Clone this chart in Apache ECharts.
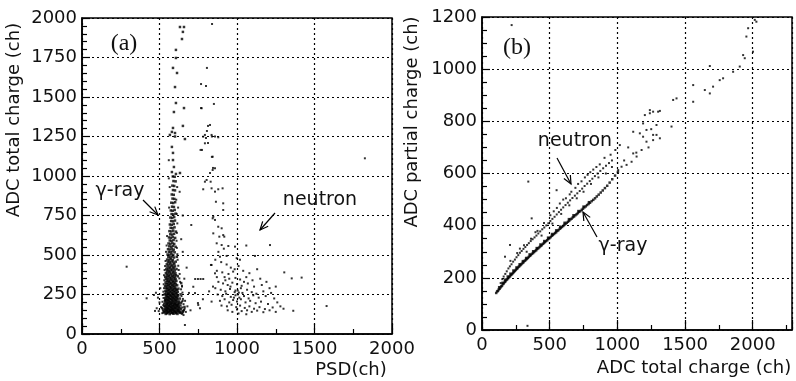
<!DOCTYPE html>
<html><head><meta charset="utf-8">
<script src="https://cdn.jsdelivr.net/npm/echarts@6/dist/echarts.min.js"></script>
<style>html,body{margin:0;padding:0;background:#fff}#c{width:796px;height:381px}</style>
</head><body><div id="c"></div>
<script>
// ---------- (a) PSD vs ADC total charge ----------
const ticksA_x = [0, 500, 1000, 1500, 2000];
const ticksA_y = [0, 250, 500, 750, 1000, 1250, 1500, 1750, 2000];
const gammaA = [
[540,127],[551,131],[566,126],[579,133],[590,128],[604,131],[616,127],[631,134],
[535,137],[548,134],[561,139],[572,136],[586,133],[597,138],[609,135],[623,139],[642,133],
[530,143],[545,146],[556,141],[569,147],[582,143],[594,145],[607,141],[618,147],[634,142],
[538,151],[550,149],[563,154],[576,150],[587,153],[600,148],[613,152],[627,150],[649,146],
[533,159],[547,157],[558,161],[571,156],[584,160],[596,158],[608,162],[621,157],[638,160],
[541,167],[553,165],[567,169],[579,164],[592,168],[603,166],[616,170],[629,165],
[536,175],[549,173],[562,178],[574,172],[586,176],[598,174],[611,178],[624,173],[661,171],
[544,183],[557,181],[568,186],[581,180],[593,185],[606,182],[618,184],[635,181],
[531,191],[547,189],[559,194],[572,188],[584,193],[597,190],[609,192],[622,189],
[539,199],[552,197],[565,202],[577,196],[589,200],[601,198],[614,203],[628,197],
[535,208],[548,206],[560,211],[573,205],[585,210],[598,207],[610,212],[626,206],
[543,217],[555,215],[567,220],[580,214],[592,219],[604,216],[617,221],
[537,226],[550,224],[562,229],[575,223],[587,228],[599,225],[612,230],[631,224],
[545,235],[557,233],[570,238],[582,232],[594,237],[607,234],[620,239],
[540,244],[552,242],[565,247],[577,241],[589,246],[602,243],[615,248],
[534,253],[548,251],[560,256],[572,250],[585,255],[597,252],[610,257],[636,251],
[543,263],[556,261],[568,266],[580,260],[592,265],[605,262],[618,267],
[538,273],[551,271],[563,276],[575,270],[588,275],[600,272],[613,277],
[546,283],[558,281],[570,286],[583,280],[595,285],[608,282],[622,287],
[541,293],[553,291],[566,296],[578,290],[590,295],[603,292],
[536,304],[549,302],[561,307],[573,301],[586,306],[598,303],[614,308],
[544,315],[556,313],[569,318],[581,312],[593,317],[606,314],
[539,326],[552,324],[564,329],[576,323],[589,328],[601,325],[640,322],
[547,337],[559,335],[571,340],[584,334],[596,339],[609,336],
[542,349],[555,347],[567,352],[579,346],[592,351],[604,348],
[537,361],[550,359],[562,364],[575,358],[587,363],[599,360],[618,365],
[546,373],[558,371],[570,376],[582,370],[595,375],[607,372],
[541,386],[553,384],[566,389],[578,383],[590,388],[603,385],
[549,399],[561,397],[573,402],[586,396],[598,401],
[544,412],[556,410],[569,415],[581,409],[593,414],[610,411],
[551,426],[564,424],[576,429],[588,423],[600,428],
[547,441],[559,439],[571,444],[584,438],[596,443],
[554,456],[566,454],[579,459],[591,453],[605,458],
[549,471],[562,469],[574,474],[586,468],
[557,487],[569,485],[581,490],[594,484],[612,489],
[552,503],[564,501],[577,506],[589,500],
[560,520],[572,518],[584,523],[598,517],
[555,537],[567,535],[580,540],[592,534],
[563,555],[575,553],[588,558],[604,552],
[558,573],[570,571],[583,576],[595,570],
[566,592],[578,590],[591,595],
[561,611],[573,609],[586,614],[601,608],
[569,631],[581,629],[594,634],
[564,651],[576,649],[589,654],[606,648],
[572,672],[584,670],[597,675],
[567,693],[579,691],[592,696],
[575,715],[587,713],[600,718],
[570,737],[582,735],[595,740],
[578,759],[590,757],[604,762],
[573,782],[585,780],[598,785],
[581,806],[593,804],
[576,831],[588,829],[601,834],
[584,857],[596,855],
[579,883],[592,881],
[587,911],[600,909],
[583,939],[595,937],
[590,968],[604,966],
[586,997],[598,995],
[606,1013],[580,1025],[632,1019],[593,1057],[587,1101],[587,1146],[580,1184],[664,1234],
[567,1260],[600,1250],[580,1279],[600,1272],[587,1304],[651,1317],[593,1405],[606,1462],
[658,1430],[600,1563],[587,1684],[613,1652],[606,1747],[606,1798],[645,1867],[651,1912],
[632,1943],[658,1943]
];
const edgeA = [
[518,132],[522,148],[516,165],[524,182],[519,204],[526,228],[521,247],[525,268],[529,290],
[527,315],[531,340],[529,372],[533,405],[536,430],[539,462],[542,520],[546,560],[549,620],
[652,136],[658,152],[647,168],[655,189],[644,205],[651,222],[642,240],[648,262],[639,283],
[645,305],[633,330],[628,352],[630,380],[624,405],[621,432],[617,470],[615,505],[612,545],
[610,590],[612,640],[615,700],[611,760],[608,850],[562,800],[566,930],[560,985],[614,930],
[525,135],[645,128],[655,145],[520,158],[662,160],[530,176],[640,196],[650,210],[535,216]
];
const strayA = [
[288,426],[477,261],[417,226],[464,247],[482,163],[471,146],[664,57],[761,163],[750,184],
[718,299],[500,200],[510,170],[495,145],[655,120],[670,140],[680,175],[665,210],[690,260],
[700,150],[645,300],[660,350],[675,420],[650,520],[640,600],[705,690],[620,800],[650,750],
[630,900],[560,1100],[490,230],[505,290]
];
const neutronA = [
[839,1962],[806,1684],[800,1570],[768,1582],[851,1456],[768,1430],[806,1285],[813,1317],
[793,1260],[800,1240],[838,1250],[858,1250],[774,1165],[813,1209],[838,1121],[845,1051],
[826,1019],[772,1429],[826,1323],[782,1249],[836,1260],[879,1245],[793,1207],[765,1165],
[843,1122],[843,1038],[858,1049],[804,975],[793,964],[830,964],[782,916],[836,922],
[858,901],[879,916],[907,922],[864,837],[911,827],[911,785],[847,742],[843,732],[858,722],
[879,679],[901,669],[847,637],[886,616],[911,626],[918,616],[869,574],[901,563],[944,557],
[987,553],[890,489],[933,494],[998,480],[1019,470],[1116,494],[1213,563],[832,437],
[898,455],[933,440],[960,420],[985,410],[1010,430],[870,400],[905,390],[945,380],[975,395],
[1040,400],[1080,385],[1130,410],[858,384],[836,437],[920,360],[950,350],[990,355],
[1020,345],[1060,360],[1100,340],[1150,350],[1190,330],[880,330],[910,320],[940,310],
[970,325],[1000,315],[1030,305],[1070,320],[1110,300],[1160,310],[1210,290],[1250,300],
[860,290],[895,280],[925,270],[955,285],[985,265],[1005,275],[1035,260],[1065,280],
[1095,265],[1125,255],[1170,270],[1220,260],[875,250],[905,240],[930,255],[960,235],
[990,245],[1015,230],[1045,240],[1075,225],[1105,245],[1140,230],[1185,240],[1240,225],
[890,210],[920,220],[950,200],[975,215],[1000,205],[1025,220],[1055,200],[1085,210],
[1120,195],[1155,205],[1200,190],[1260,200],[900,180],[935,175],[965,185],[995,170],
[1020,180],[1050,165],[1080,175],[1110,160],[1145,170],[1180,158],[1230,168],[1280,175],
[940,150],[970,140],[1000,155],[1030,145],[1065,150],[1095,140],[1130,148],[1170,138],
[1210,150],[1250,140],[1300,160],[1010,130],[1060,125],[980,230],[1005,250],[1012,262],
[990,275],[1025,290],[958,300],[1045,330],[925,340],[870,360],[845,300],[820,270],
[780,220],[836,205],[748,196],[729,259],[730,348],[748,348],[765,348],[782,348],[860,470],
[880,520],[915,540],[1060,560],[1305,390],[1353,352],[1417,357],[1363,147],[1578,177],
[1825,1112]
];

// ---------- (b) ADC total charge vs ADC partial charge ----------
const ticksB_x = [0, 500, 1000, 1500, 2000];
const ticksB_y = [0, 200, 400, 600, 800, 1000, 1200];
const gammaB = [
[105,142],[112,148],[118,150],[124,156],[130,158],[136,163],[142,167],[148,170],[155,176],
[161,179],[168,184],[174,187],[181,192],[187,195],[194,199],[200,203],[207,206],[214,211],
[221,214],[228,218],[235,222],[242,226],[249,230],[256,234],[263,237],[270,242],[277,245],
[285,249],[292,253],[300,257],[307,260],[315,265],[322,268],[330,272],[338,276],[345,280],
[353,284],[361,287],[369,292],[377,295],[385,299],[393,303],[401,306],[409,311],[417,314],
[425,318],[433,322],[441,325],[449,330],[457,333],[465,337],[473,341],[482,344],[490,349],
[498,352],[507,356],[515,361],[523,364],[532,368],[540,372],[548,375],[557,380],[565,383],
[574,388],[582,391],[591,395],[600,399],[608,403],[617,407],[626,411],[635,415],[644,419],
[653,424],[662,427],[671,432],[680,435],[690,440],[699,444],[708,448],[718,453],[727,456],
[737,461],[746,465],[756,470],[766,474],[776,479],[787,483],[798,488],[810,494],[822,499],
[835,505],[848,512],[862,519],[877,527],[892,535],[908,544],[925,553],[943,565],[962,578],
[983,592],[1004,606],
[152,181],[170,193],[190,205],[210,216],[232,228],[255,240],[278,252],[302,264],[326,276],
[352,290],[378,302],[404,314],[432,328],[460,341],[488,354],[518,368],[548,382],[578,396],
[610,411],[642,425],[676,440],[712,456],[750,473],[790,490]
];
const neutronB = [
[125,165],[138,180],[150,195],[160,205],[172,215],[183,225],[195,236],[206,244],[218,252],
[230,262],[243,270],[255,279],[268,287],[280,296],[293,303],[306,311],[320,318],[333,326],
[346,333],[360,341],[374,348],[388,355],[402,362],[416,370],[430,378],[445,386],[460,393],
[475,401],[490,409],[505,418],[520,426],[536,434],[552,443],[568,452],[584,461],[600,470],
[617,479],[634,488],[651,497],[668,506],[686,515],[704,524],[722,533],[740,542],[758,552],
[777,561],[796,571],[815,580],[834,590],[854,600],[874,610],[895,620],[916,630],[938,640],
[960,650],
[210,265],[260,295],[310,325],[362,350],[410,380],[458,410],[505,440],[553,468],[600,500],
[648,520],[690,545],[735,570],[780,595],[822,615],[870,635],[905,660],[950,672],[985,690],
[530,455],[575,485],[620,505],[660,530],[710,560],[760,585],[800,605],[845,625],
[280,312],[330,300],[395,375],[440,362],[520,408],[585,445],[645,478],[700,505],[750,530],
[805,560],[860,585],[915,600],[960,625]
];
const highB = [
[1006,613],[1031,626],[1068,633],[1105,645],[1142,665],[1179,690],[1018,709],[1117,760],
[1190,792],[1240,831],[1264,837],[1314,840],[1190,741],[1215,722],[1264,728],[1289,748],
[1314,735],[1400,780],[1412,882],[1437,888],[1203,824],[1240,843],[1301,837],[1289,786],
[1215,767],[1264,748],[1166,754],[1117,677],[1140,680],[1560,939],[1560,875],[1646,920],
[1683,907],[1707,933],[1756,958],[1781,965],[1855,990],[1904,1010],[1683,1012],[1929,1054],
[1941,1042],[1966,1157],[2015,1189],[2027,1182],[2002,1067],[1953,1125],[1050,650],
[1080,700],[1230,700],[1250,770]
];
const strayB = [[219,1169],[342,569],[367,428],[207,326],[170,281],[336,16],[551,536]];

// ---------- chart ----------
const F = '"DejaVu Sans", sans-serif';
const chart = echarts.init(document.getElementById('c'), null, {renderer: 'canvas'});
const black = '#000';
const plain = v => String(v);

function xAxis(gi, max, ticks, minorSplit) {
  return {
    gridIndex: gi, type: 'value', min: ticks[0], max: max, interval: ticks[1] - ticks[0],
    axisLine: {onZero: false, lineStyle: {color: black, width: 1.5}},
    axisTick: {inside: true, length: 10, lineStyle: {color: black, width: 1.2}},
    minorTick: {show: true, splitNumber: minorSplit, length: 5, lineStyle: {color: black, width: 1.2}},
    axisLabel: {fontFamily: F, fontSize: 18, color: '#111', margin: 6, formatter: plain,
      showMaxLabel: max === ticks[ticks.length - 1]},
    splitLine: {show: true, lineStyle: {color: black, width: 1.2, type: [2, 3]}}
  };
}
function yAxis(gi, ticks, minorSplit) {
  return {
    gridIndex: gi, type: 'value', min: ticks[0], max: ticks[ticks.length - 1], interval: ticks[1] - ticks[0],
    axisLine: {onZero: false, lineStyle: {color: black, width: 1.5}},
    axisTick: {inside: true, length: 8, lineStyle: {color: black, width: 1.2}},
    minorTick: {show: true, splitNumber: minorSplit, length: 5, lineStyle: {color: black, width: 1.2}},
    axisLabel: {fontFamily: F, fontSize: 18, color: '#111', margin: 5, formatter: plain},
    splitLine: {show: true, lineStyle: {color: black, width: 1.2, type: [2, 3]}}
  };
}
function pts(data, gi, size) {
  return {type: 'scatter', xAxisIndex: gi, yAxisIndex: gi, data: data, symbol: 'rect',
    symbolSize: size, itemStyle: {color: black}, silent: true, animation: false};
}
function arrow(x1, y1, x2, y2) {
  const a = Math.atan2(y2 - y1, x2 - x1), h = 9, w = 0.42;
  return [
    {type: 'line', shape: {x1, y1, x2, y2}, style: {stroke: black, lineWidth: 1.2}},
    {type: 'polyline', shape: {points: [[x2 - h * Math.cos(a - w), y2 - h * Math.sin(a - w)], [x2, y2],
      [x2 - h * Math.cos(a + w), y2 - h * Math.sin(a + w)]]}, style: {stroke: black, fill: null, lineWidth: 1.2}}
  ];
}
function txt(x, y, s, size, font, rot) {
  return {type: 'text', x: x, y: y, rotation: rot || 0,
    style: {text: s, font: size + 'px ' + font, fill: '#111', textAlign: 'center', textVerticalAlign: 'middle'}};
}

chart.setOption({
  animation: false,
  grid: [
    {left: 82, top: 18, width: 310, height: 316, show: true, borderColor: black, borderWidth: 1.5},
    {left: 482, top: 17, width: 310, height: 313, show: true, borderColor: black, borderWidth: 1.5}
  ],
  xAxis: [xAxis(0, 2000, ticksA_x, 2), xAxis(1, 2290, ticksB_x, 2)],
  yAxis: [yAxis(0, ticksA_y, 5), yAxis(1, ticksB_y, 4)],
  series: [
    pts(gammaA, 0, 2.5), pts(edgeA, 0, 2), pts(strayA, 0, 2), pts(neutronA, 0, 2),
    pts(gammaB, 1, 2.5), pts(neutronB, 1, 2), pts(highB, 1, 2), pts(strayB, 1, 2)
  ],
  graphic: [
    txt(14, 120, 'ADC total charge (ch)', 18, F, Math.PI / 2),
    txt(351, 370, 'PSD(ch)', 18, F),
    txt(412, 122, 'ADC partial charge (ch)', 18, F, Math.PI / 2),
    txt(694, 368, 'ADC total charge (ch)', 18, F),
    txt(124, 44, '(a)', 24, '"Liberation Serif", serif'),
    txt(517, 48, '(b)', 24, '"Liberation Serif", serif'),
    txt(120, 191, 'γ-ray', 19, F),
    txt(320, 200, 'neutron', 19, F),
    txt(575, 141, 'neutron', 19, F),
    txt(623, 246, 'γ-ray', 19, F),
    ...arrow(143, 200, 158, 215),
    ...arrow(275, 213, 260, 230),
    ...arrow(557, 158, 571, 184),
    ...arrow(597, 237, 583, 212)
  ]
});
</script>
</body></html>
